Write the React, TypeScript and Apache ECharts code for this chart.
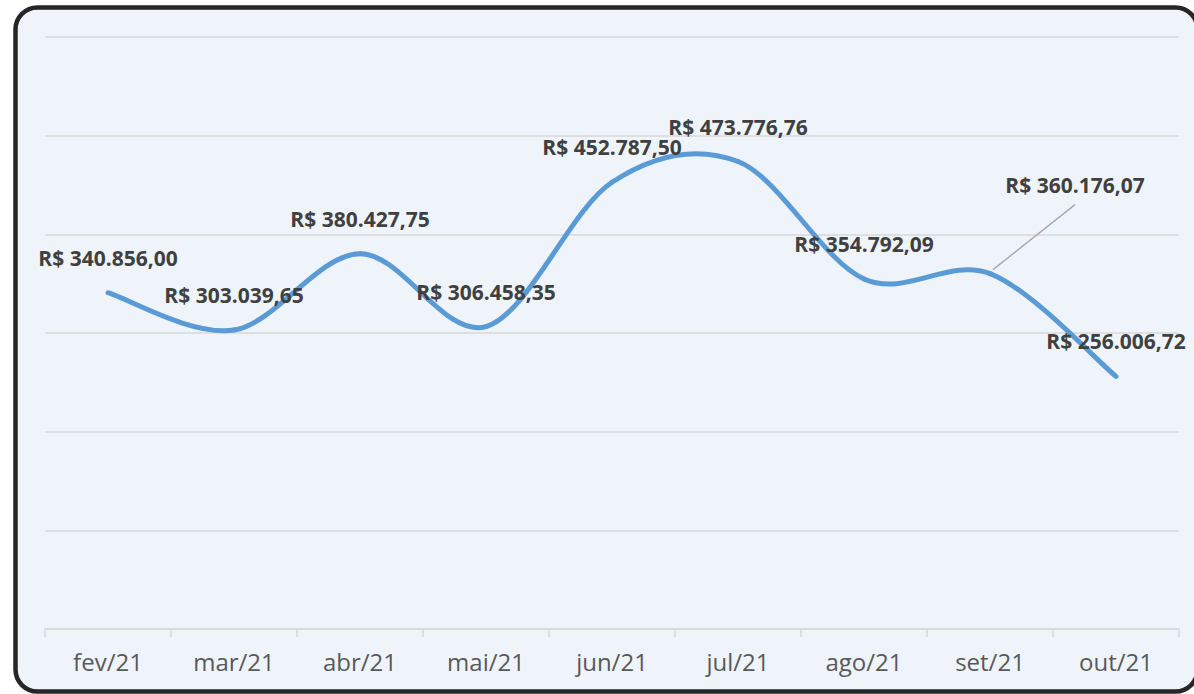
import React, { useEffect, useRef } from "react";
import * as echarts from "echarts";

const categories = ["fev/21", "mar/21", "abr/21", "mai/21", "jun/21", "jul/21", "ago/21", "set/21", "out/21"];
const values = [340856.0, 303039.65, 380427.75, 306458.35, 452787.5, 473776.76, 354792.09, 360176.07, 256006.72];
const yMin = 0;
const yMax = 600000;
const yInterval = 100000;
const movedLabelIndex = 7;

function fmt(v: number): string {
  const fixed = v.toFixed(2);
  const [intPart, dec] = fixed.split(".");
  const withDots = intPart.replace(/\B(?=(\d{3})+(?!\d))/g, ".");
  return "R$ " + withDots + "," + dec;
}

const TENSION = 1 / 6;

export default function App() {
  const ref = useRef<HTMLDivElement>(null);
  useEffect(() => {
    document.body.style.margin = "0";
    if (!ref.current) return;
    const chart = echarts.init(ref.current, null, { renderer: "svg" });
    chart.setOption({
      animation: false,
      backgroundColor: "#ffffff",
      graphic: [
        {
          type: "rect",
          z: -100,
          silent: true,
          shape: { x: 15.5, y: 7.5, width: 1182, height: 684, r: 22 },
          style: { fill: "#EFF4FB", stroke: "#262626", lineWidth: 4.5 },
        },
      ],
      grid: { left: 45, right: 15, top: 37, bottom: 65 },
      xAxis: {
        type: "category",
        data: categories,
        boundaryGap: true,
        axisLine: { show: true, lineStyle: { color: "#D9D9D9", width: 1.5 } },
        axisTick: { show: true, length: 8, alignWithLabel: false, lineStyle: { color: "#D9D9D9", width: 1.5 } },
        axisLabel: { color: "#595959", fontSize: 24, fontFamily: "Open Sans", margin: 20 },
      },
      yAxis: {
        type: "value",
        min: yMin,
        max: yMax,
        interval: yInterval,
        axisLabel: { show: false },
        axisLine: { show: false },
        axisTick: { show: false },
        splitLine: { show: true, lineStyle: { color: "#D9D9D9", width: 1.5 } },
      },
      series: [
        {
          type: "custom",
          data: values.map((v, i) => [i, v]),
          z: 3,
          silent: true,
          renderItem: (params: any, api: any) => {
            const i = params.dataIndex;
            const n = values.length;
            const pt = (k: number) => {
              const kk = Math.max(0, Math.min(n - 1, k));
              return api.coord([kk, values[kk]]);
            };
            const children: any[] = [];
            if (i < n - 1) {
              const p0 = pt(i - 1);
              const p1 = pt(i);
              const p2 = pt(i + 1);
              const p3 = pt(i + 2);
              children.push({
                type: "bezierCurve",
                shape: {
                  x1: p1[0],
                  y1: p1[1],
                  cpx1: p1[0] + (p2[0] - p0[0]) * TENSION,
                  cpy1: p1[1] + (p2[1] - p0[1]) * TENSION,
                  cpx2: p2[0] - (p3[0] - p1[0]) * TENSION,
                  cpy2: p2[1] - (p3[1] - p1[1]) * TENSION,
                  x2: p2[0],
                  y2: p2[1],
                },
                style: { fill: "none", stroke: "#5B9BD5", lineWidth: 5, lineCap: "round" },
              });
            }
            if (i === movedLabelIndex) {
              const p = pt(i);
              children.push({
                type: "line",
                z2: -1,
                shape: { x1: p[0] + 3, y1: p[1] - 4, x2: p[0] + 85, y2: p[1] - 69 },
                style: { stroke: "#A6A6A6", lineWidth: 1.3 },
              });
            }
            return { type: "group", children };
          },
        },
        {
          type: "line",
          data: values,
          z: 4,
          symbol: "circle",
          symbolSize: 1,
          showSymbol: true,
          itemStyle: { color: "rgba(0,0,0,0)" },
          lineStyle: { opacity: 0, width: 0 },
          label: {
            show: true,
            position: "top",
            distance: 24,
            offset: [3, 0],
            color: "#404040",
            fontWeight: "bold",
            fontSize: 21,
            fontFamily: "Open Sans",
            formatter: (p: any) => fmt(p.value),
          },
          labelLayout: (p: any) => (p.dataIndex === movedLabelIndex ? { dx: 85, dy: -54 } : {}),
        },
      ],
    });
    return () => chart.dispose();
  }, []);
  return <div ref={ref} style={{ width: 1194, height: 694 }} />;
}
